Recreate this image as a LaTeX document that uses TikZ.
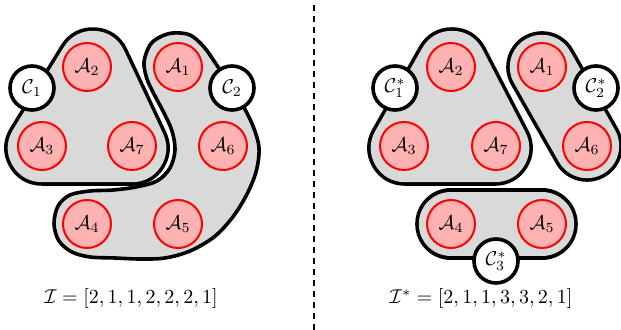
\documentclass[tikz,border=0pt]{standalone}
\begin{document}
\begin{tikzpicture}[x=0.5pt,y=-0.5pt,
  blob/.style={draw=black,line width=1.8pt,fill=black!15,line join=round},
  anode/.style={circle,draw=red,line width=1pt,fill=red!30,minimum size=24pt,inner sep=0pt},
  cnode/.style={circle,draw=black,line width=1.8pt,fill=white,minimum size=22pt,inner sep=0pt},
  triout/.style={line width=37.8pt,line join=round,line cap=round,draw=black,fill=black},
  triin/.style={line width=34.2pt,line join=round,line cap=round,draw=black!15,fill=black!15},
  capout/.style={line width=35.8pt,line cap=round,draw=black},
  capin/.style={line width=32.2pt,line cap=round,draw=black!15},
  lbl/.style={inner sep=0pt}]
\useasboundingbox (0,0) rectangle (621,330);
% hull corner points
\coordinate (t1) at (93,65);
\coordinate (t2) at (42,148);
\coordinate (t3) at (132,148);
\coordinate (s1) at (452,65);
\coordinate (s2) at (405,148);
\coordinate (s3) at (495,148);
\coordinate (pA1s) at (542,67);
\coordinate (pA6s) at (587,146);
\coordinate (pA4s) at (451,224);
\coordinate (pA5s) at (542,224);
% ---------- left panel blobs ----------
\draw[triout] (t1) -- (t2) -- (t3) -- cycle;
\draw[triin] (t1) -- (t2) -- (t3) -- cycle;
\draw[blob] plot[smooth cycle,tension=0.55] coordinates {
 (150,45) (160,37) (173,33) (190,35) (204,47) (216,64) (229,84) (242,104)
 (253,126) (259,148) (256,172) (246,196) (232,218) (214,237) (190,251) (165,258)
 (140,259) (115,258) (90,257) (72,252) (59,241) (54,224) (58,206) (70,195)
 (90,191) (113,190) (136,187) (157,181) (170,168) (175,150) (172,131) (164,113)
 (155,96) (147,79) (144,62)};
% ---------- right panel blobs ----------
\draw[triout] (s1) -- (s2) -- (s3) -- cycle;
\draw[triin] (s1) -- (s2) -- (s3) -- cycle;
\draw[capout] (pA1s) -- (pA6s);
\draw[capin] (pA1s) -- (pA6s);
\draw[capout] (pA4s) -- (pA5s);
\draw[capin] (pA4s) -- (pA5s);
% ---------- left panel nodes ----------
\node[anode] (A1) at (178,67) {$\mathcal{A}_1$};
\node[anode] (A2) at (87,67) {$\mathcal{A}_2$};
\node[anode] (A3) at (42,146) {$\mathcal{A}_3$};
\node[anode] (A7) at (132,146) {$\mathcal{A}_7$};
\node[anode] (A6) at (223,146) {$\mathcal{A}_6$};
\node[anode] (A4) at (87,224) {$\mathcal{A}_4$};
\node[anode] (A5) at (178,224) {$\mathcal{A}_5$};
\node[cnode] (C1) at (32,88) {$\mathcal{C}_1$};
\node[cnode] (C2) at (232,88) {$\mathcal{C}_2$};
% ---------- right panel nodes ----------
\node[anode] (A1s) at (pA1s) {$\mathcal{A}_1$};
\node[anode] (A2s) at (451,67) {$\mathcal{A}_2$};
\node[anode] (A3s) at (404,146) {$\mathcal{A}_3$};
\node[anode] (A7s) at (496,146) {$\mathcal{A}_7$};
\node[anode] (A6s) at (pA6s) {$\mathcal{A}_6$};
\node[anode] (A4s) at (pA4s) {$\mathcal{A}_4$};
\node[anode] (A5s) at (pA5s) {$\mathcal{A}_5$};
\node[cnode] (C1s) at (395,88) {$\mathcal{C}_1^*$};
\node[cnode] (C2s) at (596,88) {$\mathcal{C}_2^*$};
\node[cnode] (C3s) at (496,261) {$\mathcal{C}_3^*$};
% ---------- divider and labels ----------
\coordinate (dtop) at (314,5);
\coordinate (dbot) at (314,330);
\draw[line width=1pt,dash pattern=on 3pt off 2.5pt] (dtop) -- (dbot);
\node[lbl] (L1) at (131,299) {$\mathcal{I} = [2,1,1,2,2,2,1]$};
\node[lbl] (L2) at (481,299) {$\mathcal{I}^* = [2,1,1,3,3,2,1]$};
\end{tikzpicture}
\end{document}
